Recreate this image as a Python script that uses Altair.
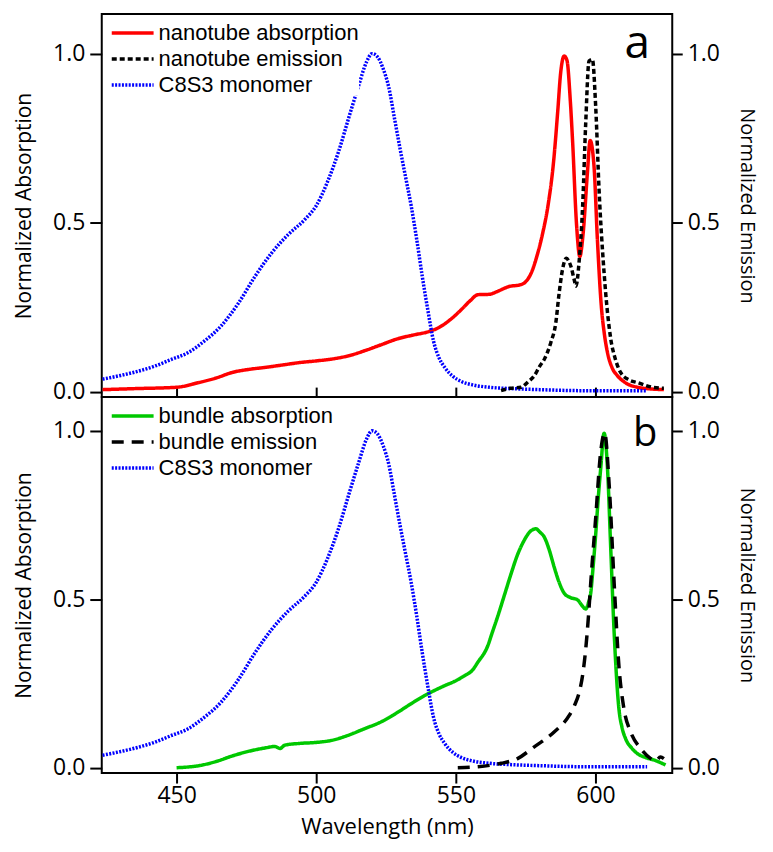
import altair as alt
import pandas as pd

# ---------------- data ----------------
mono_wl = [423.5, 430, 436, 442, 448, 454, 460, 466, 472, 478, 484, 490, 496, 500,
           504, 508, 512, 515, 518, 520, 522, 524, 526, 528, 530, 532, 534, 536, 538,
           540, 542, 544, 546, 549, 552, 556, 562, 570, 580, 595, 610, 618.5]
mono_val = [0.037, 0.048, 0.06, 0.075, 0.095, 0.115, 0.15, 0.195, 0.26, 0.34, 0.41,
            0.465, 0.51, 0.55, 0.62, 0.71, 0.82, 0.9, 0.975, 1.0, 0.99, 0.955, 0.9,
            0.81, 0.72, 0.635, 0.55, 0.45, 0.34, 0.24, 0.15, 0.1, 0.072, 0.045, 0.03,
            0.02, 0.013, 0.009, 0.006, 0.003, 0.003, 0.003]

nt_abs_wl = [423.5, 435, 450, 458, 464, 470, 476, 482, 488, 494, 500, 506, 512, 518,
             523, 529, 535, 540, 544, 548, 552, 555, 558, 562, 565, 569, 573, 575,
             577, 579, 581, 583, 585, 586.5, 587.5, 588.8, 589.8, 591, 591.8, 593.2,
             594.4, 595.6, 597.1, 598.1, 599.5, 600.7, 602.1, 603.2, 604.3, 606,
             607.9, 611, 615, 620, 624.5]
nt_abs_val = [0.006, 0.009, 0.013, 0.027, 0.04, 0.057, 0.066, 0.072, 0.079, 0.086,
              0.091, 0.097, 0.107, 0.123, 0.138, 0.156, 0.168, 0.177, 0.19, 0.213,
              0.243, 0.268, 0.287, 0.288, 0.297, 0.311, 0.316, 0.325, 0.351, 0.4,
              0.465, 0.55, 0.68, 0.83, 0.94, 0.993, 0.98, 0.86, 0.743, 0.498, 0.40,
              0.469, 0.645, 0.743, 0.665, 0.449, 0.253, 0.17, 0.116, 0.07, 0.047,
              0.025, 0.013, 0.008, 0.006]

nt_em_wl = [566.2, 569.5, 573.3, 576, 578.1, 580, 581.7, 584, 585.8, 587, 588.2,
            589.6, 590.5, 591.2, 592.4, 593, 594.2, 595.4, 596.5, 597.7, 598.9,
            600.1, 601.3, 603.1, 605.5, 607, 609, 612, 615, 620.5, 624.5]
nt_em_val = [0.003, 0.01, 0.013, 0.03, 0.047, 0.075, 0.096, 0.145, 0.204, 0.292,
             0.361, 0.395, 0.385, 0.371, 0.331, 0.312, 0.39, 0.547, 0.792, 0.978,
             0.983, 0.841, 0.596, 0.351, 0.155, 0.1, 0.057, 0.035, 0.027, 0.013, 0.01]

bd_abs_wl = [450, 454, 458, 464, 470, 476, 482, 485.2, 487, 488.8, 494, 500, 505.5,
             511.4, 517.4, 523, 529.3, 534, 538.8, 545.9, 550, 553.1, 556, 557.8,
             561.4, 563, 565, 567.5, 569.8, 572, 574.5, 576.5, 578.7, 580, 581.7,
             583.5, 585.2, 587, 588.8, 591, 593.6, 595.3, 596.5, 597.5, 598.3, 599.2,
             600.1, 601, 601.9, 603.1, 604.3, 605.5, 606.7, 608.4, 609.5, 610.8, 613,
             615, 618, 620.9, 625.1]
bd_abs_val = [0.0, 0.002, 0.006, 0.018, 0.035, 0.049, 0.059, 0.063, 0.057, 0.067,
              0.072, 0.075, 0.081, 0.096, 0.116, 0.135, 0.165, 0.19, 0.214, 0.243,
              0.258, 0.273, 0.29, 0.312, 0.361, 0.4, 0.449, 0.515, 0.576, 0.63, 0.675,
              0.7, 0.709, 0.70, 0.684, 0.645, 0.596, 0.55, 0.518, 0.505, 0.498, 0.48,
              0.471, 0.49, 0.518, 0.6, 0.694, 0.8, 0.89, 0.993, 0.89, 0.645, 0.4,
              0.175, 0.12, 0.086, 0.058, 0.042, 0.03, 0.023, 0.008]

bd_em_wl = [550.7, 557.9, 566.2, 572.1, 578.1, 585.2, 590.6, 592.5, 594.2, 595.5,
            596.5, 597.5, 598.3, 600.1, 601.9, 603.3, 604.9, 606.7, 608.4, 610.2,
            612.6, 616.2, 619.8, 621.5, 623.3, 624.5]
bd_em_val = [0.0, 0.003, 0.013, 0.027, 0.062, 0.106, 0.155, 0.185, 0.224, 0.28,
             0.351, 0.45, 0.547, 0.743, 0.939, 0.993, 0.841, 0.547, 0.302, 0.175,
             0.106, 0.057, 0.027, 0.02, 0.032, 0.027]

x_ticks = [450, 500, 550, 600]
y_ticks = [0.0, 0.5, 1.0]
MONO = "C8S3 monomer"

AX_FONT = "Open Sans"
LEG_FONT = "Liberation Sans"
X_DOMAIN = [423.2, 627.5]


def make_panel(abs_name, abs_wl, abs_val, abs_color, em_name, em_wl, em_val,
               em_dash, ydom, height, letter, letter_x, letter_y, letter_size, bottom):
    names = [abs_name, em_name, MONO]
    left_df = pd.DataFrame({
        "wl": abs_wl + mono_wl,
        "v": abs_val + mono_val,
        "series": [abs_name] * len(abs_wl) + [MONO] * len(mono_wl),
    })
    right_df = pd.DataFrame({
        "wl": em_wl, "v": em_val, "series": [em_name] * len(em_wl)
    })
    legend = alt.Legend(
        title=None, orient="none", legendX=4, legendY=8, padding=0,
        symbolType="M-4,0H4", symbolSize=110, symbolStrokeWidth=3.5,
        symbolOffset=16, labelOffset=15, rowPadding=4, labelLimit=0,
        labelFont=LEG_FONT, labelFontSize=22, labelColor="black",
        fillColor="white", symbolFillColor="transparent",
    )
    color = alt.Color("series:N", scale=alt.Scale(domain=names,
                      range=[abs_color, "#000000", "#0000ff"]), legend=legend)
    dash = alt.StrokeDash("series:N", scale=alt.Scale(domain=names,
                          range=[[1, 0], em_dash, [2, 1.4]]), legend=legend)
    width_enc = alt.StrokeWidth("series:N", scale=alt.Scale(domain=names,
                                range=[3.5, 3.5, 4.5]), legend=None)
    yscale = alt.Scale(domain=ydom, nice=False, zero=False)
    xscale = alt.Scale(domain=X_DOMAIN, nice=False, zero=False)
    if bottom:
        xaxis = alt.Axis(values=x_ticks, title="Wavelength (nm)", format="d",
                         tickSize=10, labelPadding=2, titlePadding=9,
                         titleFontSize=22)
    else:
        xaxis = alt.Axis(values=x_ticks, title=None, labels=False,
                         tickSize=10, offset=-10)
    left = alt.Chart(left_df).mark_line(interpolate="monotone").encode(
        x=alt.X("wl:Q", scale=xscale, axis=xaxis),
        y=alt.Y("v:Q", scale=yscale, axis=alt.Axis(
            values=y_ticks, format=".1f", title="Normalized Absorption",
            tickSize=12, labelPadding=5, titlePadding=18)),
        color=color, strokeDash=dash, strokeWidth=width_enc, detail="series:N",
    )
    right = alt.Chart(right_df).mark_line(interpolate="monotone").encode(
        x=alt.X("wl:Q", scale=xscale, axis=xaxis),
        y=alt.Y("v:Q", scale=yscale, axis=alt.Axis(
            orient="right", values=y_ticks, format=".1f", title="Normalized Emission",
            tickSize=10, labelPadding=5, titlePadding=17, titleFontSize=20)),
        color=color, strokeDash=dash, strokeWidth=width_enc, detail="series:N",
    )
    text = alt.Chart(pd.DataFrame({"t": [letter]})).mark_text(
        font=AX_FONT, fontSize=letter_size, align="center", baseline="alphabetic",
        color="black"
    ).encode(text="t:N", x=alt.value(letter_x), y=alt.value(letter_y))
    return alt.layer(left, right, text).resolve_scale(y="independent").properties(
        width=572, height=height)


panel_a = make_panel("nanotube absorption", nt_abs_wl, nt_abs_val, "#ff0000",
                     "nanotube emission", nt_em_wl, nt_em_val, [5, 3],
                     [-0.016, 1.117], 384, "a", 537, 44, 46, False)
panel_b = make_panel("bundle absorption", bd_abs_wl, bd_abs_val, "#00c800",
                     "bundle emission", bd_em_wl, bd_em_val, [12, 8],
                     [-0.016, 1.10], 377, "b", 545, 49, 40, True)

chart = alt.vconcat(panel_a, panel_b, spacing=0, bounds="flush").resolve_scale(
    color="independent", strokeDash="independent", strokeWidth="independent"
).resolve_legend(color="independent", strokeDash="independent").configure_view(
    stroke="black", strokeWidth=2
).configure_axis(
    domain=False, grid=False, tickColor="black", tickWidth=2,
    labelFont=AX_FONT, labelFontSize=23, labelColor="black",
    titleFont=AX_FONT, titleFontSize=21, titleFontWeight="normal", titleColor="black",
).properties(padding={"left": 4, "top": 4, "right": 7, "bottom": 0})

chart.save("out.html", embed_options={"renderer": "svg", "actions": False})
